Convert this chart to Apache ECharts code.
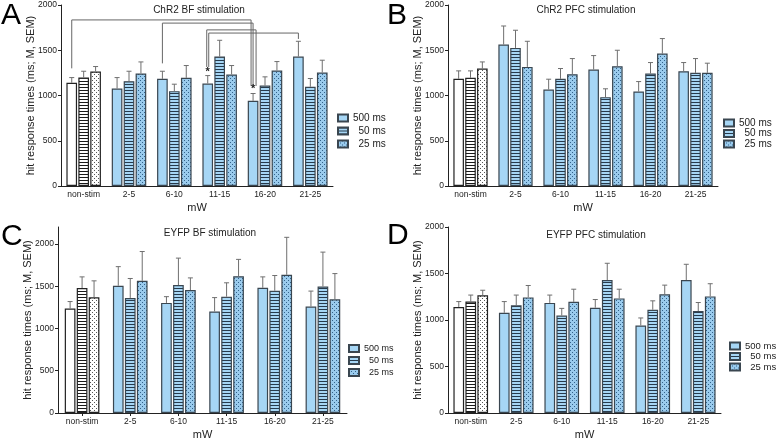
<!DOCTYPE html>
<html><head><meta charset="utf-8">
<script src="https://cdn.jsdelivr.net/npm/echarts@6/dist/echarts.min.js"></script>
<style>html,body{margin:0;padding:0;background:#fff}#c{width:776px;height:441px}</style>
</head><body><div id="c"></div>
<script>
// ---------- data ----------
const categories = ['non-stim', '2-5', '6-10', '11-15', '16-20', '21-25'];
const seriesNames = ['500 ms', '50 ms', '25 ms'];
const yTicks = [0, 500, 1000, 1500, 2000];
const panelTitles = ['ChR2 BF stimulation', 'ChR2 PFC stimulation', 'EYFP BF stimulation', 'EYFP PFC stimulation'];
const panelLetters = ['A', 'B', 'C', 'D'];
const yAxisName = 'hit response times (ms; M, SEM)';
const xAxisName = 'mW';

// Panel A: ChR2 BF
const aMean500 = [1140, 1077, 1184, 1132, 941, 1430];
const aSem500  = [58, 121, 84, 88, 81, 169];
const aMean50  = [1198, 1158, 1048, 1430, 1110, 1096];
const aSem50   = [70, 110, 77, 180, 96, 92];
const aMean25  = [1265, 1243, 1195, 1232, 1276, 1254];
const aSem25   = [55, 128, 136, 99, 99, 136];

// Panel B: ChR2 PFC
const bMean500 = [1184, 1563, 1066, 1287, 1044, 1268];
const bSem500  = [88, 205, 114, 154, 110, 96];
const bMean50  = [1195, 1526, 1184, 982, 1243, 1250];
const bSem50   = [77, 195, 114, 92, 121, 158];
const bMean25  = [1298, 1316, 1235, 1324, 1463, 1250];
const bSem25   = [73, 283, 173, 176, 166, 107];

// Panel C: EYFP BF
const cMean500 = [1236, 1505, 1302, 1201, 1481, 1259];
const cSem500  = [82, 226, 74, 164, 129, 183];
const cMean50  = [1478, 1361, 1513, 1376, 1446, 1497];
const cSem50   = [132, 230, 319, 164, 180, 406];
const cMean25  = [1368, 1563, 1454, 1618, 1634, 1345];
const cSem25   = [195, 347, 144, 199, 444, 304];

// Panel D: EYFP PFC
const dMean500 = [1140, 1077, 1184, 1132, 941, 1430];
const dSem500  = [58, 121, 84, 88, 81, 169];
const dMean50  = [1198, 1158, 1048, 1430, 1110, 1096];
const dSem50   = [70, 110, 77, 180, 96, 92];
const dMean25  = [1265, 1243, 1195, 1232, 1276, 1254];
const dSem25   = [55, 128, 136, 99, 99, 136];

// Significance brackets in panel A: [category1, series1, value1, category2, series2, value2, level]
const bracketsA = [
  [0, 0, 1300, 4, 0, 1105, 1835],
  [2, 0, 1355, 4, 0, 1105, 1800],
  [3, 0, 1315, 4, 0, 1105, 1725],
  [3, 0, 1315, 5, 0, 1625, 1690]
];
// significance stars in panel A: [category, series, value]
const starsA = [[3, 0, 1265], [4, 0, 1070]];

// ---------- styling / layout ----------
const FONT = '"Liberation Sans", Arial, sans-serif';
const bracketDx = [[0, -2], [0, 0], [-1, 3], [1, 0]];

function pat(w, h, bg, fg, pts) {
  const c = document.createElement('canvas');
  c.width = w; c.height = h;
  const g = c.getContext('2d');
  g.fillStyle = bg; g.fillRect(0, 0, w, h);
  g.fillStyle = fg;
  pts.forEach(p => g.fillRect(p[0], p[1], p[2], p[3]));
  return { image: c, repeat: 'repeat' };
}
const BLUE = '#a6d6f5';
const blueFills = [
  BLUE,
  pat(4, 3, '#a6d6f5', '#263a4c', [[0, 0, 4, 1]]),
  pat(4, 4, '#9acbed', '#33628a', [[0, 0, 1, 1], [2, 2, 1, 1]])
];
const whiteFills = [
  '#ffffff',
  pat(4, 3, '#ffffff', '#1a1a1a', [[0, 0, 4, 1]]),
  pat(4, 4, '#ffffff', '#555555', [[0, 0, 1, 1], [2, 2, 1, 1]])
];

const panels = [
  { means: [aMean500, aMean50, aMean25], sems: [aSem500, aSem50, aSem25],
    grid: { left: 61, top: 5, width: 272, height: 181 }, max: 2000, bw: 0.235,
    legend: { left: 337, top: 113, itemGap: 3, fontSize: 10 }, xTick: false,
    title: [199, 10], letter: [1, 1] },
  { means: [bMean500, bMean50, bMean25], sems: [bSem500, bSem50, bSem25],
    grid: { left: 448, top: 5, width: 270, height: 181 }, max: 2000, bw: 0.235,
    legend: { left: 723, top: 118, itemGap: 0.5, fontSize: 10 }, xTick: false,
    title: [586, 10], letter: [387, 1] },
  { means: [cMean500, cMean50, cMean25], sems: [cSem500, cSem50, cSem25],
    grid: { left: 58, top: 227, width: 289, height: 188 }, max: 2200, bw: 0.222,
    legend: { left: 348, top: 344, itemGap: 3, fontSize: 9 }, xTick: true,
    title: [210, 233], letter: [1, 222] },
  { means: [dMean500, dMean50, dMean25], sems: [dSem500, dSem50, dSem25],
    grid: { left: 448, top: 227, width: 273, height: 188 }, max: 2000, bw: 0.235,
    legend: { left: 729, top: 341, itemGap: 0.5, fontSize: 9.5 }, xTick: false,
    title: [596, 235], letter: [387, 221] }
];

const AX = '#222';
const option = {
  animation: false,
  textStyle: { fontFamily: FONT },
  grid: [], xAxis: [], yAxis: [], series: [], legend: [], graphic: []
};

panels.forEach((p, gi) => {
  option.grid.push(Object.assign({ containLabel: false }, p.grid));
  option.xAxis.push({
    type: 'category', gridIndex: gi, data: categories,
    axisLine: { lineStyle: { color: AX, width: 1 } },
    axisTick: { show: p.xTick, length: 3, alignWithLabel: true, lineStyle: { color: AX } },
    axisLabel: { fontSize: 8.5, color: AX, margin: 4, interval: 0, fontFamily: FONT },
    name: xAxisName, nameLocation: 'middle', nameGap: 16, nameMoveOverlap: false,
    nameTextStyle: { fontSize: 11, color: AX, fontFamily: FONT }
  });
  option.yAxis.push({
    type: 'value', gridIndex: gi, min: 0, max: p.max, interval: 500,
    axisLine: { show: true, lineStyle: { color: AX, width: 1 } },
    axisTick: { show: true, length: 3, lineStyle: { color: AX }, customValues: yTicks },
    splitLine: { show: false },
    axisLabel: { fontSize: 8.5, color: AX, margin: 4, fontFamily: FONT, customValues: yTicks,
                 formatter: v => String(v) },
    name: yAxisName, nameLocation: 'middle', nameGap: 25, nameMoveOverlap: false,
    nameTextStyle: { fontSize: 11, color: AX, fontFamily: FONT }
  });
  for (let k = 0; k < 3; k++) {
    option.series.push({
      type: 'bar', name: seriesNames[k], xAxisIndex: gi, yAxisIndex: gi,
      barWidth: (p.bw * 100) + '%', barGap: '12%',
      itemStyle: { color: blueFills[k], borderColor: '#3a4650', borderWidth: 1.2 },
      emphasis: { disabled: true },
      data: p.means[k].map((v, i) => i === 0
        ? { value: v, itemStyle: { color: whiteFills[k], borderColor: '#222', borderWidth: 1.2 } }
        : v),
      z: 2
    });
  }
  const errData = [];
  for (let k = 0; k < 3; k++) {
    p.means[k].forEach((v, i) => errData.push([i, v, v + p.sems[k][i], k]));
  }
  const bw = p.bw;
  option.series.push({
    type: 'custom', name: 'err' + gi, xAxisIndex: gi, yAxisIndex: gi,
    encode: { x: 0, y: [1, 2] }, z: 5, silent: true,
    data: errData,
    renderItem: function (params, api) {
      const catW = api.size([1, 0])[0];
      const w = catW * bw, step = w * 1.12;
      const c = api.coord([api.value(0), api.value(1)]);
      const t = api.coord([api.value(0), api.value(2)]);
      const x = c[0] + (api.value(3) - 1) * step;
      const st = { stroke: '#6f6f6f', lineWidth: 1 };
      return { type: 'group', children: [
        { type: 'line', shape: { x1: x, y1: c[1], x2: x, y2: t[1] }, style: st },
        { type: 'line', shape: { x1: x - 2.5, y1: t[1], x2: x + 2.5, y2: t[1] }, style: st }
      ] };
    }
  });
  option.legend.push({
    orient: 'vertical', left: p.legend.left, top: p.legend.top, itemGap: p.legend.itemGap,
    padding: 0,
    data: seriesNames, icon: 'rect', itemWidth: 10, itemHeight: 7, selectedMode: false,
    textStyle: { fontSize: p.legend.fontSize, color: AX, fontFamily: FONT },
    formatter: n => n.length < 6 ? '\u2007' + n : n
  });
  option.graphic.push({
    type: 'text', x: p.title[0], y: p.title[1], silent: true,
    style: { text: panelTitles[gi], fontSize: 10, fontFamily: FONT, fill: AX,
             align: 'center', verticalAlign: 'middle', textAlign: 'center', textVerticalAlign: 'middle' }
  });
  option.graphic.push({
    type: 'text', x: p.letter[0], y: p.letter[1], silent: true,
    style: { text: panelLetters[gi], fontSize: 30, fontFamily: FONT, fill: '#000',
             align: 'left', verticalAlign: 'top', textAlign: 'left', textVerticalAlign: 'top' }
  });
});

// brackets in panel A
const bwA = panels[0].bw;
option.series.push({
  type: 'custom', name: 'brackets', xAxisIndex: 0, yAxisIndex: 0, z: 6, silent: true,
  encode: { x: 0, y: 6 },
  data: bracketsA,
  renderItem: function (params, api) {
    const catW = api.size([1, 0])[0];
    const step = catW * bwA * 1.12;
    const dx = bracketDx[params.dataIndex];
    const x1 = api.coord([api.value(0), 0])[0] + (api.value(1) - 1) * step + dx[0];
    const x2 = api.coord([api.value(3), 0])[0] + (api.value(4) - 1) * step + dx[1];
    const y1 = api.coord([0, api.value(2)])[1];
    const y2 = api.coord([0, api.value(5)])[1];
    const yl = api.coord([0, api.value(6)])[1];
    return { type: 'polyline', shape: { points: [[x1, y1], [x1, yl], [x2, yl], [x2, y2]] },
             style: { stroke: '#666', lineWidth: 1, fill: null } };
  }
});
option.series.push({
  type: 'custom', name: 'stars', xAxisIndex: 0, yAxisIndex: 0, z: 7, silent: true,
  encode: { x: 0, y: 2 },
  data: starsA,
  renderItem: function (params, api) {
    const catW = api.size([1, 0])[0];
    const step = catW * bwA * 1.12;
    const c = api.coord([api.value(0), api.value(2)]);
    return { type: 'text', x: c[0] + (api.value(1) - 1) * step, y: c[1],
             style: { text: '*', fontSize: 11, fontWeight: 'bold', fontFamily: FONT, fill: '#222',
                      align: 'center', verticalAlign: 'middle' } };
  }
});

const chart = echarts.init(document.getElementById('c'), null, { renderer: 'canvas' });
chart.setOption(option);
</script></body></html>
